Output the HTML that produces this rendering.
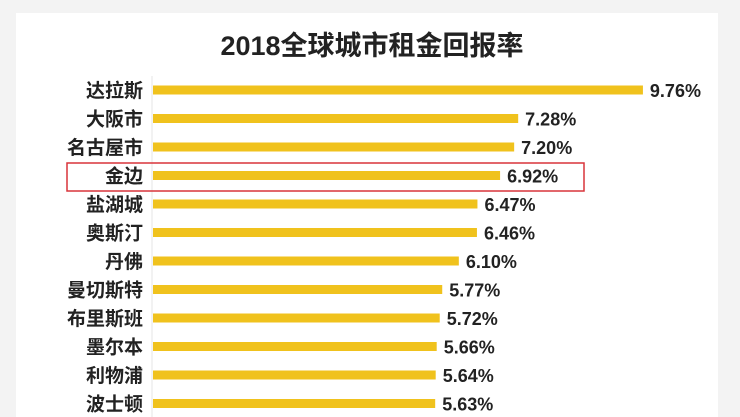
<!DOCTYPE html>
<html><head><meta charset="utf-8">
<style>
html,body{margin:0;padding:0;background:#f3f3f3;}
svg{display:block;font-family:"Liberation Sans","Noto Sans CJK SC",sans-serif;}
</style></head>
<body>
<svg id="chart" width="740" height="417">
<rect x="16" y="13" width="702" height="410" fill="#ffffff"/>
<text x="372" y="55" text-anchor="middle" font-size="27" font-weight="bold" fill="#222">2018全球城市租金回报率</text>
<line x1="152" y1="76" x2="152" y2="417" stroke="#e4e4e4" stroke-width="1"/>
<g id="bars"></g>
<rect x="67" y="163" width="517" height="28" fill="none" stroke="#d9343a" stroke-width="1.5"/>
</svg>
<script>
const cities = ["达拉斯","大阪市","名古屋市","金边","盐湖城","奥斯汀","丹佛","曼切斯特","布里斯班","墨尔本","利物浦","波士顿"];
const values = [9.76,7.28,7.20,6.92,6.47,6.46,6.10,5.77,5.72,5.66,5.64,5.63];
const valueLabels = ["9.76%","7.28%","7.20%","6.92%","6.47%","6.46%","6.10%","5.77%","5.72%","5.66%","5.64%","5.63%"];
const x = v => 152 + v * 50.3;
const y = i => 90 + i * 28.5;
const g = document.getElementById('bars');
const NS = "http://www.w3.org/2000/svg";
cities.forEach((c, i) => {
  const r = document.createElementNS(NS, 'rect');
  r.setAttribute('x', 153);
  r.setAttribute('y', y(i) - 4.5);
  r.setAttribute('width', x(values[i]) - 153);
  r.setAttribute('height', 9);
  r.setAttribute('fill', '#f0c21d');
  
  
  g.appendChild(r);
  const t = document.createElementNS(NS, 'text');
  t.setAttribute('x', 143);
  t.setAttribute('y', y(i) + 7);
  t.setAttribute('text-anchor', 'end');
  t.setAttribute('font-size', '19');
  t.setAttribute('font-weight', 'bold');
  t.setAttribute('fill', '#222');
  t.textContent = c;
  
  
  g.appendChild(t);
  const v = document.createElementNS(NS, 'text');
  v.setAttribute('x', x(values[i]) + 7);
  v.setAttribute('y', y(i) + 7);
  v.setAttribute('font-size', '18');
  v.setAttribute('font-weight', 'bold');
  v.setAttribute('fill', '#222');
  v.textContent = valueLabels[i];
  
  
  g.appendChild(v);
});
</script>
</body></html>
